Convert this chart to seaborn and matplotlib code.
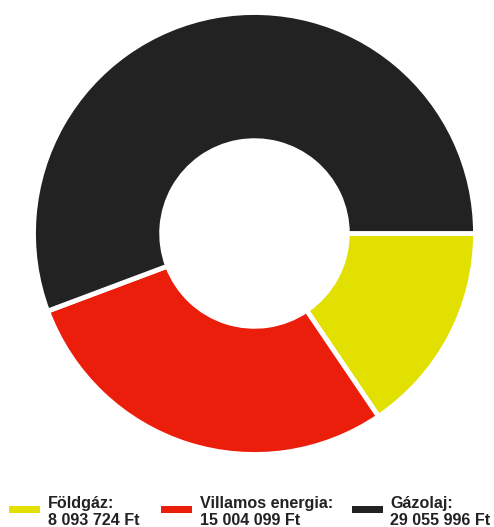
import matplotlib
matplotlib.use("Agg")
import matplotlib.pyplot as plt
from matplotlib.patches import Rectangle
import seaborn as sns

# data
categories = ["Földgáz:", "Villamos energia:", "Gázolaj:"]
values = [8093724, 15004099, 29055996]
value_labels = ["8 093 724 Ft", "15 004 099 Ft", "29 055 996 Ft"]
colors = ["#E2E000", "#EB1E0C", "#222222"]

sns.set_theme(style="white")
plt.rcParams['font.family'] = ['Liberation Sans', 'DejaVu Sans']

W, H = 494, 527
fig = plt.figure(figsize=(W / 100, H / 100), dpi=100)

# donut (hole radius ~0.42 of outer)
ax = fig.add_axes([33.5 / W, 72.5 / H, 442 / W, 442 / H])
ax.pie(values, colors=colors, startangle=0, counterclock=False, radius=1,
       wedgeprops=dict(width=0.58, edgecolor='white', linewidth=3.5))
ax.set_xlim(-1, 1)
ax.set_ylim(-1, 1)
ax.set_aspect('equal')
ax.axis('off')

# legend drawn by hand
rect_x = [9, 161, 352]
text_x = [48, 200, 390]
for i, (name, lab, col) in enumerate(zip(categories, value_labels, colors)):
    fig.patches.append(Rectangle((rect_x[i] / W, 1 - 513 / H), 31 / W, 7 / H,
                                 transform=fig.transFigure, facecolor=col,
                                 edgecolor='none'))
    fig.text(text_x[i] / W, 1 - 508 / H, name, fontsize=11.6, fontweight='bold',
             color='#222222', va='baseline', ha='left')
    fig.text(text_x[i] / W, 1 - 525 / H, lab, fontsize=11.6, fontweight='bold',
             color='#222222', va='baseline', ha='left')

plt.savefig("out.png", dpi=100)
plt.close()
